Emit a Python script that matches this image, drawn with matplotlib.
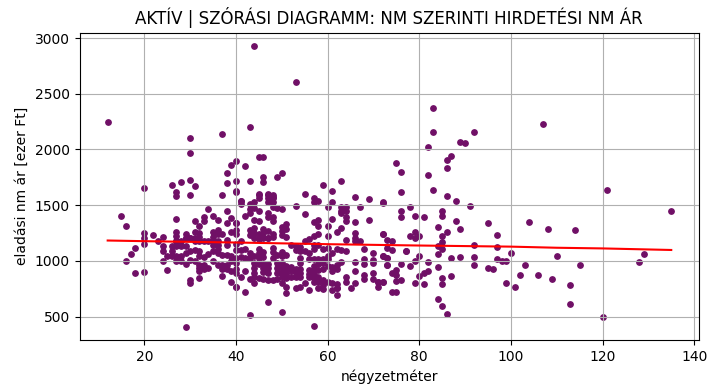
import numpy as np
import matplotlib.pyplot as plt

# right side of the chart, x > 71
sqm_right = [83,83,92,89,90,82,87,86,86,75,76,82,83,76,86,88,72,91,107,121,135,
             85,85,76,76,78,79,81,88,84,89,86,85,79,78,79,80,72,74,73,74,77,77,
             85,84,85,84,80,72,73,87,89,92,92,97,95,97,100,104,108,114,110,129,128,
             97,98,99,79,82,73,76,78,84,92,95,96,103,115,102,106,109,113,113,120,
             99,101,87,85,85,82,81,80,79,81,76,75,75,74,75,72,71,74,75,84,85,86]
price_right = [2370,2160,2160,2070,2060,2020,1940,1910,1830,1875,1795,1770,1640,1620,1580,1535,1525,1490,2230,1640,1450,
               1450,1405,1450,1390,1480,1405,1390,1360,1305,1290,1255,1225,1260,1225,1205,1225,1245,1180,1115,1100,1090,1085,
               1170,1135,1110,1065,1045,1045,1030,1030,1035,1035,1145,1235,1340,1125,1070,1350,1290,1280,1045,1060,990,
               1020,1000,1000,1000,990,965,975,955,945,965,935,930,965,965,875,875,840,785,610,500,
               800,765,865,845,790,910,890,865,800,790,830,820,920,890,875,810,810,720,720,655,595,520]

# upper left
sqm_top = [44,12,43,37,30,30,40,39,42,45,46,38,50,49,46,46,43,40,38,30,28,26,31,20,27,27,30,37,40,45,47,48,41,53]
price_top = [2925,2250,2205,2135,2100,1965,1900,1865,1855,1930,1930,1785,1790,1750,1755,1710,1720,1720,1700,1730,1710,1685,1675,1650,1620,1585,1595,1595,1620,1595,1595,1575,1540,2605]

# lower left
sqm_left = [15,16,20,20,20,22,24,23,18,17,16,18,20,29,24,24,24,25,25,27,27,27,27,
            31,33,33,34,35,36,38,39,38,40,32,31,32,32,29,29,35,36,36,35,37,40,39,40,30,31,38,28,
            30,30,32,37,39,40]
price_left = [1400,1310,1250,1205,1150,1230,1215,1175,1115,1060,1000,890,900,410,1130,1090,1000,915,1040,1375,1260,1220,1175,
              1355,1390,1355,1470,1400,1365,1445,1385,1340,1340,1310,1260,1250,1215,1240,1205,1260,1275,1240,1215,1240,1275,1260,1240,1205,1205,1185,1175,
              825,800,845,860,815,770]

# the dense block around the trend line, 26-39 nm
sqm_dense_a = [26,26,26,27,27,27,27,28,28,28,29,29,29,29,30,30,30,31,31,31,
               32,32,32,32,32,32,33,33,33,33,34,34,34,35,35,35,35,
               36,36,36,36,36,37,37,37,38,38,38,38,39,39,39]
price_dense_a = [1132,1087,1042,1177,1132,1042,997,1132,1042,997,1204,1132,1069,970,1204,1087,1009,1177,1099,997,
                 1177,1087,1042,961,934,907,1177,1033,961,925,1177,1060,934,1177,1141,1087,997,
                 1177,1141,1105,1069,961,1051,961,925,1141,1051,961,925,1042,997,907]

# upper middle, 40-73 nm
sqm_mid = [40,45,47,48,45,47,48,44,47,48,41,41,43,55,59,57,57,58,61,61,63,66,69,72,67,53,60,
           63,64,63,64,63,64,48,49,50,43,44,45,42,43,47,47,48,48,44,45,40,55,57,58,58,61,60,64,66,69,
           63,62,66,66,72,73,51,50,51,50,50,51,
           43,44,44,45,46,46,47,48,48,43,44,45,46,47,58,57,56,55,60,64,66,67,
           68,70,72,73,68,68,70,70,73,66,66,70,68,68,64,64,66,65,70,71,72,71,
           42,47,43,50,57,51,51,53,54,55,56,58,59,62,62,61,40]
price_mid = [1625,1600,1600,1590,1565,1565,1565,1530,1530,1530,1535,1510,1510,1600,1680,1565,1530,1535,1625,1530,1715,1575,1555,1520,1485,1490,1485,
             1485,1485,1450,1450,1430,1395,1485,1475,1465,1465,1475,1450,1400,1430,1430,1395,1395,1355,1365,1355,1340,1420,1350,1365,1310,1375,1310,1355,1345,1365,
             1295,1260,1250,1205,1240,1190,1330,1305,1285,1265,1230,1215,
             1275,1295,1250,1240,1285,1250,1265,1240,1215,1230,1205,1195,1205,1205,1240,1220,1195,1175,1220,1185,1175,1175,
             1105,1070,1040,1030,1015,970,1005,980,960,990,905,890,870,835,855,815,800,755,835,815,810,765,
             720,635,510,540,420,765,710,755,765,800,735,755,745,755,690,735,770]

# columns below the trend line, 40-64 nm
sqm_dense_b = [40,40,40,40,40,40,41,41,41,41,42,42,42,43,43,43,
               44,44,44,44,44,44,45,45,45,45,45,46,46,46,46,46,46,
               47,47,47,47,47,48,48,48,48,49,49,49,49,49,
               50,50,50,50,50,50,50,50,51,51,51,51,51,52,52,52,52,
               53,53,53,53,53,54,54,54,54,54,54,54,55,56,56,56,56,56,
               57,57,57,57,57,57,57,57,58,58,58,58,58,58,
               59,59,59,59,59,59,60,60,60,60,60,61,61,61,61,
               62,62,62,62,62,63,63,64]
price_dense_b = [1150,1096,1024,979,925,889,1177,1096,1033,853,1105,1024,907,1069,1024,835,
                 1042,979,934,889,853,799,1105,1069,1024,970,844,1078,1033,970,934,898,835,
                 1204,970,934,889,826,1114,1078,1024,826,1051,979,934,889,835,
                 1078,1042,979,943,907,880,853,799,1051,952,916,880,844,1141,943,907,853,
                 1132,1096,925,889,853,1123,1087,1024,979,925,889,853,1087,1069,1015,916,880,853,
                 1141,1105,1015,952,916,880,844,808,1141,1015,970,916,853,808,
                 1105,1015,979,925,826,781,1114,1042,1015,952,808,1069,943,907,799,
                 1105,961,925,790,754,1096,988,1087]

# red trend line
trend_x = [12,20,40,60,80,100,110,120,135]
trend_y = [1183,1177,1165,1150,1138,1128,1118,1112,1098]

sqm = np.concatenate([sqm_right,sqm_top,sqm_left,sqm_dense_a,sqm_mid,sqm_dense_b])
price = np.concatenate([price_right,price_top,price_left,price_dense_a,price_mid,price_dense_b])

plt.figure(figsize=(7.28,3.89),dpi=100)
plt.scatter(sqm,price,color="#700f66",s=15)
plt.plot(trend_x,trend_y,color="red",linewidth=1.5)
plt.xlabel("négyzetméter")
plt.ylabel("eladási nm ár [ezer Ft]")
plt.title("AKTÍV | SZÓRÁSI DIAGRAMM: NM SZERINTI HIRDETÉSI NM ÁR")
plt.xlim(5.85,141.1)
plt.ylim(290,3050)
plt.grid(True)
plt.subplots_adjust(left=79.5/728,right=699.2/728,top=1-32.5/389,bottom=1-340/389)
plt.savefig("out.png",dpi=100)
